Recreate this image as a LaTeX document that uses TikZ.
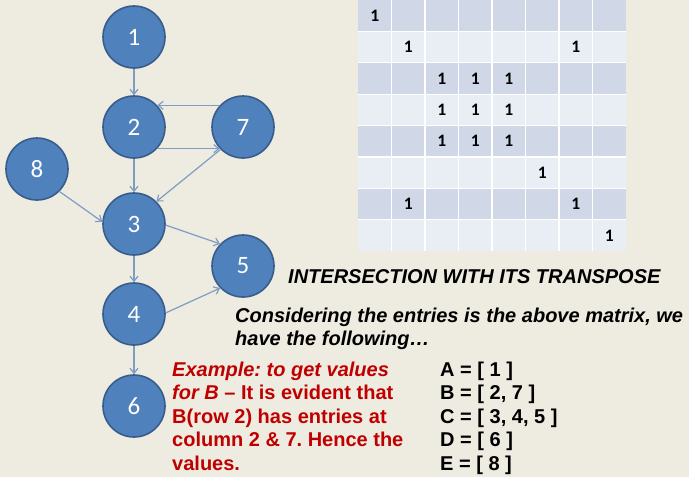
\documentclass[tikz,border=0pt]{standalone}
\usepackage{fontspec}
\setmainfont{Liberation Sans}
\newfontfamily\calib{Carlito}
\usetikzlibrary{arrows.meta}
\definecolor{bg}{HTML}{EEECE1}
\definecolor{nodefill}{HTML}{4F81BD}
\definecolor{nodeline}{HTML}{385D8A}
\definecolor{edgecol}{HTML}{7F9CC2}
\definecolor{rowdark}{HTML}{D0D8E8}
\definecolor{rowlight}{HTML}{E9EDF4}
\definecolor{redtxt}{HTML}{C00000}
\tikzset{
  gnode/.style={circle, minimum size=62pt, inner sep=0pt, fill=nodefill, draw=nodeline, line width=1.6pt,
    text=white, font=\calib\fontsize{25}{27}\selectfont},
  edge/.style={draw=edgecol, line width=1.2pt, -{Straight Barb[length=5pt,width=8pt]}},
  one/.style={font=\calib\bfseries\fontsize{17.5}{19}\selectfont, inner sep=0pt},
  txt/.style={anchor=base west, inner sep=0pt, font=\fontsize{20}{23}\selectfont\bfseries\frenchspacing},
  itxt/.style={txt, font=\fontsize{20}{23}\selectfont\bfseries\itshape\frenchspacing},
}
\begin{document}
\begin{tikzpicture}[x=1pt,y=-1pt]
\fill[bg] (0,0) rectangle (689,477);
\useasboundingbox (0,0) rectangle (689,477);
% matrix
\foreach \r in {0,...,7}{
  \pgfmathtruncatemacro{\ev}{mod(\r,2)}
  \ifnum\ev=0 \def\rc{rowdark}\else\def\rc{rowlight}\fi
  \fill[\rc] (358,{31.4*\r}) rectangle (626,{31.4*(\r+1)});
}
\foreach \i in {1,...,7}{
  \draw[white, line width=1.2pt] ({358+33.5*\i},0) -- ({358+33.5*\i},251.2);
  \draw[white, line width=1.2pt] (358,{31.4*\i}) -- (626,{31.4*\i});
}
\foreach \r/\c in {1/1,2/2,2/7,3/3,3/4,3/5,4/3,4/4,4/5,5/3,5/4,5/5,6/6,7/2,7/7,8/8}{
  \node[one] (m\r\c) at ({358+33.5*(\c-0.5)},{31.4*(\r-0.5)}) {1};
}
% graph nodes
\node[gnode] (n1) at (134,37) {1};
\node[gnode] (n2) at (134,127) {2};
\node[gnode] (n7) at (243,127) {7};
\node[gnode] (n8) at (37,169) {8};
\node[gnode] (n3) at (134,224) {3};
\node[gnode] (n5) at (243,266) {5};
\node[gnode] (n4) at (134,314) {4};
\node[gnode] (n6) at (134,406) {6};
% edges
\draw[edge] (n1.south) -- (n2.north);
\draw[edge] (n7.137) -- (n2.43);
\draw[edge] (n2.-43) -- (n7.-137);
\draw[edge] (n7.225) -- (n3.45);
\draw[edge] (n2.south) -- (n3.north);
\draw[edge] (n8.-45) -- (n3.176);
\draw[edge] (n3.-2) -- (n5.136);
\draw[edge] (n3.south) -- (n4.north);
\draw[edge] (n4.2) -- (n5.224);
\draw[edge] (n4.south) -- (n6.north);
% texts
\node[itxt] (title) at (288,283) {INTERSECTION WITH ITS TRANSPOSE};
\node[itxt] (cons1) at (235,322) {Considering the entries is the above matrix, we};
\node[itxt] (cons2) at (235,345) {have the following…};
\node[txt, text=redtxt] (r1) at (172,376) {\itshape Example: to get values};
\node[txt, text=redtxt] (r2) at (172,399.5) {\itshape for B\upshape\ – It is evident that};
\node[txt, text=redtxt] (r3) at (172,423) {B(row 2) has entries at};
\node[txt, text=redtxt] (r4) at (172,446.5) {column 2 \& 7. Hence the};
\node[txt, text=redtxt] (r5) at (172,470) {values.};
\node[txt] (la) at (440,376) {A = [ 1 ]};
\node[txt] (lb) at (440,399.5) {B = [ 2, 7 ]};
\node[txt] (lc) at (440,423) {C = [ 3, 4, 5 ]};
\node[txt] (ld) at (440,446.5) {D = [ 6 ]};
\node[txt] (le) at (440,470) {E = [ 8 ]};
\end{tikzpicture}
\end{document}
